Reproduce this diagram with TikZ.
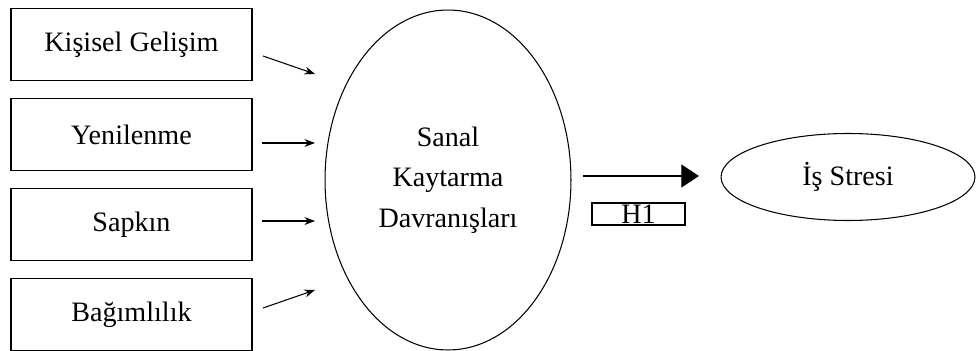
\documentclass[tikz,border=0pt]{standalone}
\usepackage{fontspec}
\setmainfont{Liberation Serif}
\usetikzlibrary{positioning, calc, shapes.geometric, arrows.meta}

\begin{document}
\begin{tikzpicture}[
    x=0.02cm, y=-0.02cm,
    >=Stealth,
    node distance=0.34cm,
    font=\fontsize{16}{23}\selectfont,
    % Dimension boxes on the left
    factor/.style={
        draw,
        rectangle,
        line width=0.6pt,
        minimum width=4.82cm,
        minimum height=1.44cm,
        inner sep=0pt
    },
    % Latent constructs
    construct/.style={
        draw,
        ellipse,
        line width=0.6pt,
        inner sep=0pt,
        align=center
    },
    % Hypothesis label
    hyp_box/.style={
        draw,
        rectangle,
        line width=0.6pt,
        minimum width=1.86cm,
        minimum height=0.44cm,
        inner sep=0pt
    },
    arrow/.style={-{Stealth[length=6pt, width=4.5pt]}, line width=0.6pt},
    big_arrow/.style={-{Triangle[length=10pt, width=13pt]}, line width=0.6pt}
]
    \useasboundingbox (0,0) rectangle (977,351);

    % ==========================================
    % 1. DIMENSIONS
    % ==========================================

    \node (kisisel) [factor] at (131.5,44.5) {Kişisel Gelişim};
    \node (yenilenme) [factor, below=of kisisel] {Yenilenme};
    \node (sapkin) [factor, below=of yenilenme] {Sapkın};
    \node (bagimlilik) [factor, below=of sapkin] {Bağımlılık};

    % ==========================================
    % 2. CONSTRUCTS
    % ==========================================

    \node (sanal) [construct, minimum width=4.92cm, minimum height=6.8cm] at (448,180) {
        Sanal\\Kaytarma\\Davranışları
    };

    \node (stres) [construct, minimum width=5.08cm, minimum height=1.74cm] at (848,177) {İş Stresi};

    \node (h1) [hyp_box] at (638.5,214) {H1};

    % ==========================================
    % 3. ARROWS
    % ==========================================

    \coordinate (kisisel_out) at (263,56);
    \coordinate (kisisel_in) at (315,74);
    \coordinate (yenilenme_out) at (262,143);
    \coordinate (yenilenme_in) at (315,143);
    \coordinate (sapkin_out) at (262,221);
    \coordinate (sapkin_in) at (315,221);
    \coordinate (bagimlilik_out) at (263,308);
    \coordinate (bagimlilik_in) at (315,290);
    \coordinate (sanal_out) at (583,176);
    \coordinate (stres_in) at (699,176);

    \draw [arrow] (kisisel_out) -- (kisisel_in);
    \draw [arrow] (yenilenme_out) -- (yenilenme_in);
    \draw [arrow] (sapkin_out) -- (sapkin_in);
    \draw [arrow] (bagimlilik_out) -- (bagimlilik_in);
    \draw [big_arrow] (sanal_out) -- (stres_in);

\end{tikzpicture}
\end{document}
